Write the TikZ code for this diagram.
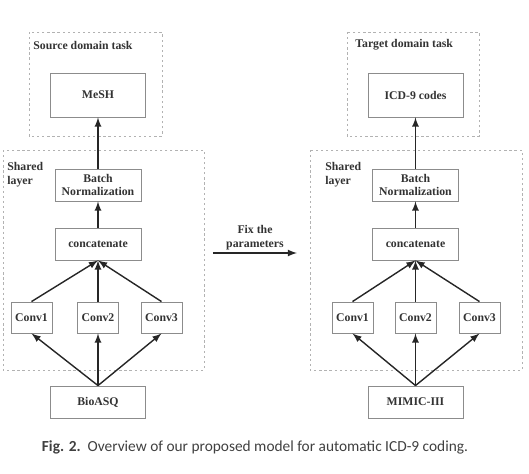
\documentclass[tikz,border=0pt]{standalone}
\usepackage{fontspec}
\setmainfont{Liberation Serif}
\newfontfamily\capfont{Carlito}
\usetikzlibrary{arrows,shapes}
\tikzstyle{block}=[rectangle,draw=black!45,line width=0.5pt,fill=white,text=black!80,font=\fontsize{6.7}{7.8}\selectfont\bfseries,align=center,inner sep=1pt]
\tikzstyle{bigblock}=[block,minimum width=1.9cm,minimum height=0.88cm]
\tikzstyle{midblock}=[block,minimum width=1.72cm,minimum height=0.64cm]
\tikzstyle{dataset}=[block,minimum width=1.9cm,minimum height=0.64cm]
\tikzstyle{convblock}=[block,minimum width=0.82cm,minimum height=0.62cm]
\tikzstyle{region}=[draw=black!30,line width=0.5pt,dash pattern=on 1.3pt off 1.6pt]
\tikzstyle{regionlabel}=[text=black!80,font=\fontsize{6.7}{7.8}\selectfont\bfseries,align=left,inner sep=0pt]
\tikzstyle{edge} = [draw,thick,-latex,black!85]

\begin{document}
\begin{tikzpicture}[x=0.02cm,y=-0.02cm]
\useasboundingbox (0,0) rectangle (529,474);

   \def\dx{317.5}

% regions
\draw[region] (29,32) rectangle (162,136);
\draw[region] (347,32) rectangle (479,136);
\draw[region] (3,150) rectangle (204,370);
\draw[region] (310,150) rectangle (522,370);

\node[regionlabel,anchor=west] (srclabel) at (33,45) {Source domain task};
\node[regionlabel,anchor=west] (tgtlabel) at (355,45) {Target domain task};
\node[regionlabel,anchor=west] (shlabelL) at (7,174.5) {Shared\\layer};
\node[regionlabel,anchor=west] (shlabelR) at (325,174.5) {Shared\\layer};

%left model
    \foreach \pos/\name/\lab in {{(98,95)/mesh/MeSH}, {(98+\dx,95)/icd/ICD-9 codes}}
        \node[bigblock] (\name) at \pos {\lab};
    \foreach \pos/\name/\lab in {{(98,185)/bnL/{Batch\\Normalization}}, {(98,244)/catL/concatenate}, {(98+\dx,185)/bnR/{Batch\\Normalization}}, {(98+\dx,244)/catR/concatenate}}
        \node[midblock] (\name) at \pos {\lab};
    \foreach \pos/\name/\lab in {{(98,402)/bio/BioASQ}, {(98+\dx,402)/mimic/MIMIC-III}}
        \node[dataset] (\name) at \pos {\lab};

%conv layer
    \foreach \pos/\name/\lab in {{(31.5,317.5)/c1L/Conv1}, {(98,317.5)/c2L/Conv2}, {(161.5,317.5)/c3L/Conv3}, {(352.5,317.5)/c1R/Conv1}, {(415.5,317.5)/c2R/Conv2}, {(479.5,317.5)/c3R/Conv3}}
        \node[convblock] (\name) at \pos {\lab};

    % Connect blocks
    \foreach \source/ \dest in {bio/c1L, bio/c2L, bio/c3L, mimic/c1R, mimic/c2R, mimic/c3R}
        \path[edge] (\source.north) -- (\dest.south);
    \foreach \source/ \dest in {c1L/catL, c2L/catL, c3L/catL, c1R/catR, c2R/catR, c3R/catR, catL/bnL, catR/bnR, bnL/mesh, bnR/icd}
        \path[edge] (\source.north) -- (\dest.south);

% transfer
\coordinate (fixs) at (213,253);
\coordinate (fixe) at (297,253);
\path[edge] (fixs) -- node[regionlabel,above=1.5pt,align=center] (fixlabel) {Fix the\\parameters} (fixe);

% Caption
\node[text=black!75,font=\capfont\fontsize{8.75}{10}\selectfont] (caption) at (255,447) {\textbf{Fig. 2.}\ \ Overview of our proposed model for automatic ICD-9 coding.};

   \end{tikzpicture}
\end{document}
